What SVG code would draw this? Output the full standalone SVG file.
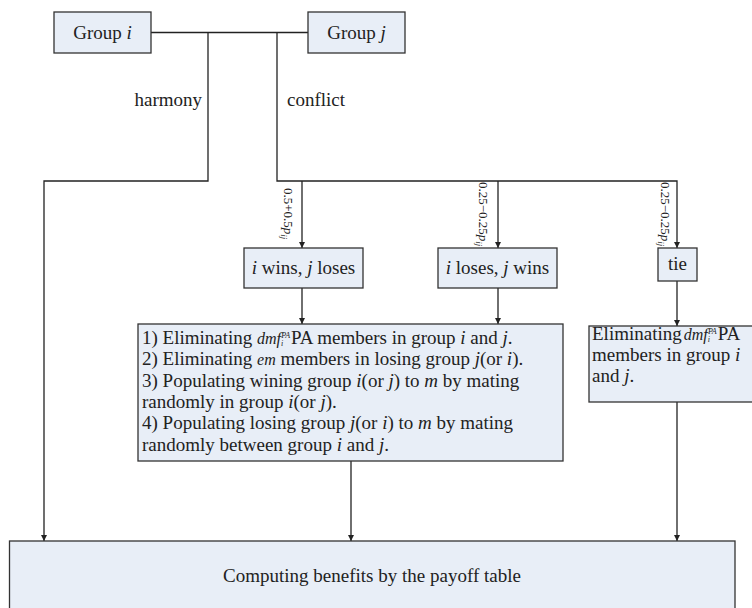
<svg xmlns="http://www.w3.org/2000/svg" width="752" height="608" viewBox="0 0 752 608">
<style>
.box{fill:#E8EEF7;stroke:#333;stroke-width:1.3}
.t{font-family:"Liberation Serif","Times New Roman",serif;font-size:19px;fill:#222}
.c{text-anchor:middle}
.lab{font-family:"Liberation Serif","Times New Roman",serif;font-size:13px;fill:#222}
.it{font-style:italic}
.m{font-style:italic;font-size:16px}
.s{font-style:italic;font-size:8px}
.con{fill:none;stroke:#222;stroke-width:1.3}
</style>
<defs>
<marker id="ah" markerUnits="userSpaceOnUse" markerWidth="7" markerHeight="7" refX="6" refY="3" orient="auto">
<path d="M0,0 L6,3 L0,6 z" fill="#222"/>
</marker>
</defs>
<rect width="752" height="608" fill="#fff"/>
<g id="connectors">
<path class="con" d="M151,32.5 H308"/>
<path class="con" d="M208,32.5 V181 H44 V541" marker-end="url(#ah)"/>
<path class="con" d="M277,32.5 V181 H677 V248" marker-end="url(#ah)"/>
<path class="con" d="M302,181 V248" marker-end="url(#ah)"/>
<path class="con" d="M498,181 V248" marker-end="url(#ah)"/>
<path class="con" d="M302,288 V324" marker-end="url(#ah)"/>
<path class="con" d="M498,288 V324" marker-end="url(#ah)"/>
<path class="con" d="M677,281 V326" marker-end="url(#ah)"/>
<path class="con" d="M351,461 V541" marker-end="url(#ah)"/>
<path class="con" d="M677,402 V541" marker-end="url(#ah)"/>
<text class="t" x="202" y="106" text-anchor="end">harmony</text>
<text class="t" x="287" y="106">conflict</text>
<text class="lab" transform="translate(284,188) rotate(90)">0.5+0.5<tspan class="it">p</tspan><tspan class="it" font-size="9" dy="3">ij</tspan></text>
<text class="lab" transform="translate(479,182) rotate(90)">0.25−0.25<tspan class="it">p</tspan><tspan class="it" font-size="9" dy="3">ij</tspan></text>
<text class="lab" transform="translate(661,182) rotate(90)">0.25−0.25<tspan class="it">p</tspan><tspan class="it" font-size="9" dy="3">ij</tspan></text>
</g>
<g id="group-i">
<rect class="box" x="54" y="12" width="97" height="41"/>
<text class="t c" x="102.5" y="39">Group <tspan class="it">i</tspan></text>
</g>
<g id="group-j">
<rect class="box" x="308" y="12" width="97" height="41"/>
<text class="t c" x="356.5" y="39">Group <tspan class="it">j</tspan></text>
</g>
<g id="i-wins">
<rect class="box" x="244" y="248" width="119" height="40"/>
<text class="t c" x="303.5" y="274"><tspan class="it">i</tspan> wins, <tspan class="it">j</tspan> loses</text>
</g>
<g id="i-loses">
<rect class="box" x="438" y="248" width="119" height="40"/>
<text class="t c" x="497.5" y="274"><tspan class="it">i</tspan> loses, <tspan class="it">j</tspan> wins</text>
</g>
<g id="tie">
<rect class="box" x="658" y="248" width="39" height="33"/>
<text class="t c" x="677.5" y="270">tie</text>
</g>
<g id="steps">
<rect class="box" x="138" y="324" width="425" height="137"/>
<text class="t" x="142" y="344">1) Eliminating <tspan class="m">dmf</tspan><tspan class="s" dy="2">i</tspan><tspan class="s" dx="-2" dy="-8">PA</tspan><tspan dx="1" dy="6">PA members in group </tspan><tspan class="it">i</tspan> and <tspan class="it">j</tspan>.</text>
<text class="t" x="142" y="365.3">2) Eliminating <tspan class="m">em</tspan> members in losing group <tspan class="it">j</tspan>(or <tspan class="it">i</tspan>).</text>
<text class="t" x="142" y="386.6">3) Populating wining group <tspan class="it">i</tspan>(or <tspan class="it">j</tspan>) to <tspan class="it">m</tspan> by mating</text>
<text class="t" x="142" y="408">randomly in group <tspan class="it">i</tspan>(or <tspan class="it">j</tspan>).</text>
<text class="t" x="142" y="429.2">4) Populating losing group <tspan class="it">j</tspan>(or <tspan class="it">i</tspan>) to <tspan class="it">m</tspan> by mating</text>
<text class="t" x="142" y="450.5">randomly between group <tspan class="it">i</tspan> and <tspan class="it">j</tspan>.</text>
</g>
<g id="tie-elim">
<rect class="box" x="589" y="326" width="170" height="76"/>
<text class="t" x="592" y="340">Eliminating<tspan class="m" dx="2">dmf</tspan><tspan class="s" dy="2">i</tspan><tspan class="s" dx="-2" dy="-8">PA</tspan><tspan dx="1" dy="6">PA</tspan></text>
<text class="t" x="592" y="361">members in group <tspan class="it">i</tspan></text>
<text class="t" x="592" y="382">and <tspan class="it">j</tspan>.</text>
</g>
<g id="payoff">
<rect class="box" x="9.5" y="541" width="725.5" height="80"/>
<text class="t c" x="372" y="582">Computing benefits by the payoff table</text>
</g>
</svg>
